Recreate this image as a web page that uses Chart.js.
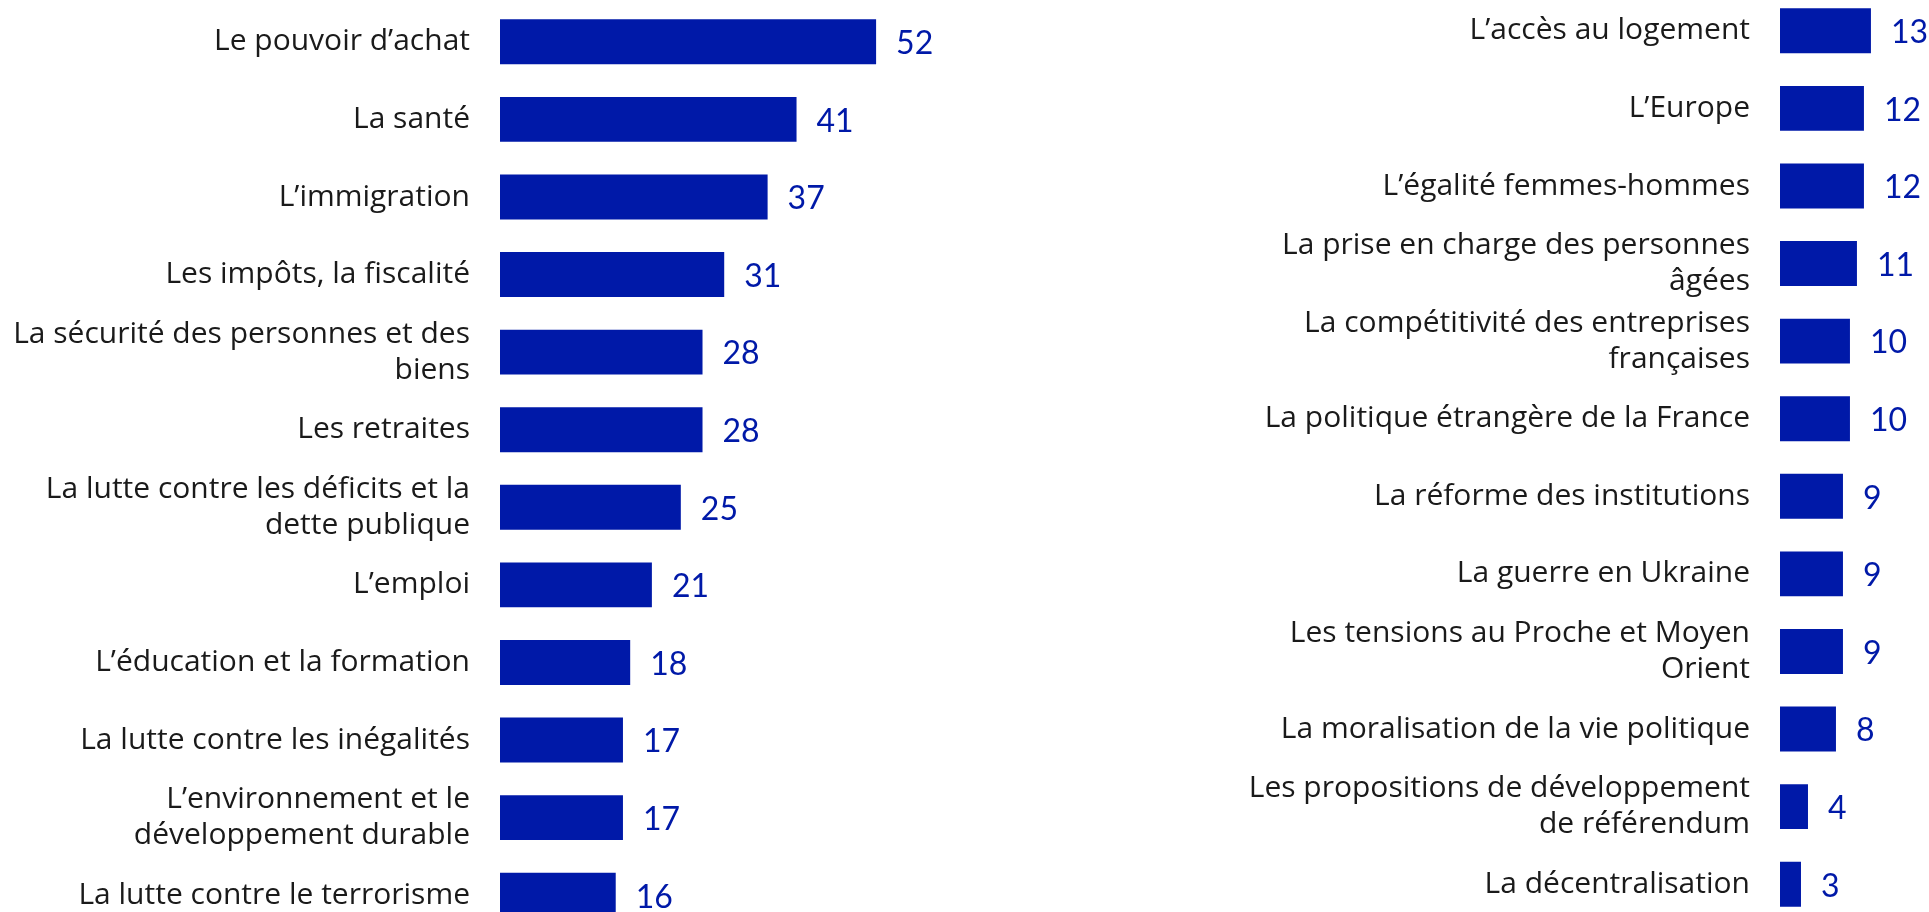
<!DOCTYPE html>
<html>
<head>
<meta charset="utf-8">
<script src="https://cdn.jsdelivr.net/npm/chart.js@4"></script>
<style>
  html, body { margin: 0; padding: 0; background: #ffffff; overflow: hidden; }
  body { width: 1929px; height: 912px; position: relative; }
  #leftWrap { position: absolute; left: 0; top: 3px; }
  #rightWrap { position: absolute; left: 960px; top: -8px; }
</style>
</head>
<body>
<div id="leftWrap"><canvas id="leftChart" width="960" height="931"></canvas></div>
<div id="rightWrap"><canvas id="rightChart" width="969" height="931"></canvas></div>
<script>
// Left column: topics
const leftLabels = [
    "Le pouvoir d\u2019achat",
    "La sant\u00e9",
    "L\u2019immigration",
    "Les imp\u00f4ts, la fiscalit\u00e9",
    ["La s\u00e9curit\u00e9 des personnes et des", "biens"],
    "Les retraites",
    ["La lutte contre les d\u00e9ficits et la", "dette publique"],
    "L\u2019emploi",
    "L\u2019\u00e9ducation et la formation",
    "La lutte contre les in\u00e9galit\u00e9s",
    ["L\u2019environnement et le", "d\u00e9veloppement durable"],
    "La lutte contre le terrorisme"
];
const leftValues = [52, 41, 37, 31, 28, 28, 25, 21, 18, 17, 17, 16];

// Right column: topics
const rightLabels = [
    "L\u2019acc\u00e8s au logement",
    "L\u2019Europe",
    "L\u2019\u00e9galit\u00e9 femmes-hommes",
    ["La prise en charge des personnes", "\u00e2g\u00e9es"],
    ["La comp\u00e9titivit\u00e9 des entreprises", "fran\u00e7aises"],
    "La politique \u00e9trang\u00e8re de la France",
    "La r\u00e9forme des institutions",
    "La guerre en Ukraine",
    ["Les tensions au Proche et Moyen", "Orient"],
    "La moralisation de la vie politique",
    ["Les propositions de d\u00e9veloppement", "de r\u00e9f\u00e9rendum"],
    "La d\u00e9centralisation"
];
const rightValues = [13, 12, 12, 11, 10, 10, 9, 9, 9, 8, 4, 3];

const barColor = '#0019a8';
const labelColor = '#1a1a1a';
const labelFont = '"Open Sans", "Noto Sans", sans-serif';
const valueFont = 'Lato, "Noto Sans", sans-serif';

// value labels to the right of each bar
const valueLabels = {
    id: 'valueLabels',
    afterDatasetsDraw(chart) {
        const ctx = chart.ctx;
        const meta = chart.getDatasetMeta(0);
        ctx.save();
        ctx.fillStyle = barColor;
        ctx.font = '32px ' + valueFont;
        ctx.textAlign = 'left';
        ctx.textBaseline = 'middle';
        meta.data.forEach((bar, i) => {
            ctx.fillText(chart.data.datasets[0].data[i], bar.x + 20, bar.y + 2);
        });
        ctx.restore();
    }
};

function makeChart(id, labels, values, axisWidth, xMax) {
    return new Chart(document.getElementById(id), {
        type: 'bar',
        data: {
            labels: labels,
            datasets: [{
                data: values,
                backgroundColor: barColor,
                borderWidth: 0,
                barPercentage: 0.58,
                categoryPercentage: 1.0
            }]
        },
        options: {
            indexAxis: 'y',
            responsive: false,
            animation: false,
            layout: { padding: 0 },
            plugins: {
                legend: { display: false },
                tooltip: { enabled: false }
            },
            scales: {
                x: {
                    display: false,
                    min: 0,
                    max: xMax
                },
                y: {
                    grid: { display: false, drawTicks: false },
                    border: { display: false },
                    ticks: {
                        color: labelColor,
                        padding: 30,
                        autoSkip: false,
                        font: { family: labelFont, size: 30, lineHeight: 1.19 }
                    },
                    afterFit(scale) {
                        // keep the bands filling the whole canvas height
                        scale.width = axisWidth;
                        scale.paddingTop = 0;
                        scale.paddingBottom = 0;
                    }
                }
            }
        },
        plugins: [valueLabels]
    });
}

makeChart('leftChart', leftLabels, leftValues, 500, 63.6);
makeChart('rightChart', rightLabels, rightValues, 820, 21.3);
</script>
</body>
</html>
